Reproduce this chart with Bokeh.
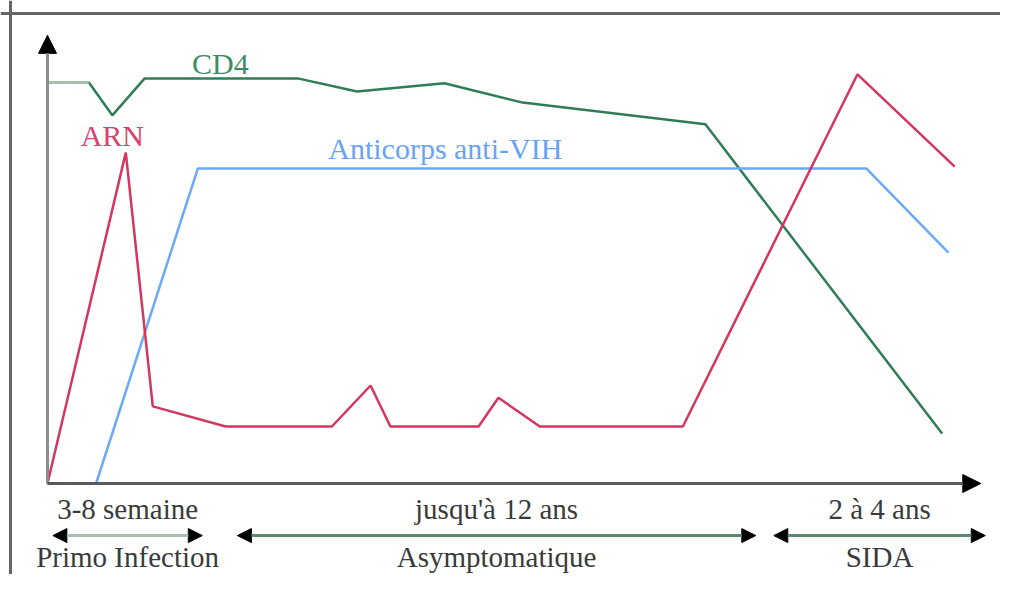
from bokeh.plotting import figure
from bokeh.models import Range1d, Arrow, NormalHead, Span
from bokeh.core.properties import value
from bokeh.embed import file_html
from bokeh.resources import INLINE

# ---- data (time in arbitrary units, level in arbitrary units) ----
cd4_t = [0, 4.6, 7.2, 10.8, 27.8, 34.4, 44.1, 52.8, 73.1, 99.4]
cd4_v = [97.8, 97.8, 89.8, 98.8, 98.8, 95.6, 97.6, 92.9, 87.6, 12.2]

arn_t = [0, 8.7, 11.7, 19.8, 31.6, 35.9, 38.1, 47.9, 50.1, 54.7, 70.6, 90.0, 100.8]
arn_v = [0, 80.7, 18.8, 13.9, 13.9, 23.9, 13.9, 13.9, 20.9, 13.9, 13.9, 99.8, 77.3]

ac_t = [0, 5.4, 16.7, 91.0, 100.1]
ac_v = [0, 0, 76.8, 76.8, 56.3]

series_names = ["CD4", "ARN", "Anticorps anti-VIH"]

phase_names = ["Primo Infection", "Asymptomatique", "SIDA"]
phase_durations = ["3-8 semaine", "jusqu'à 12 ans", "2 à 4 ans"]
phase_start = [0.6, 21.1, 80.7]
phase_end = [17.2, 78.7, 104.2]

# ---- styles ----
GREEN = "#2f7d55"
GREEN_LIGHT = "#a8c0aa"
RED = "#d5365f"
BLUE = "#6aaaf6"
BLUE_LIGHT = "#b8d6fa"
FONT = value("Liberation Serif")
FS = "30px"
FS_BOTTOM = "29px"

p = figure(width=1000, height=574, output_backend="svg", toolbar_location=None,
           x_axis_type=None, y_axis_type=None, min_border=0,
           x_range=Range1d(-5.222, 105.89), y_range=Range1d(-22.195, 117.80))
p.outline_line_color = None
p.grid.visible = False
p.background_fill_color = "white"

# frame (left and top borders)
p.add_layout(Span(location=-4.11, dimension="height", line_color="#666666", line_width=3))
p.add_layout(Span(location=114.6, dimension="width", line_color="#666666", line_width=3))

# axes with arrowheads
p.add_layout(Arrow(x_start=0, y_start=0, x_end=0, y_end=109.3,
                   line_color="#8c8c8c", line_width=3,
                   end=NormalHead(size=18, fill_color="black", line_color="black")))
p.add_layout(Arrow(x_start=0, y_start=0, x_end=103.7, y_end=0,
                   line_color="#5a5a5a", line_width=3,
                   end=NormalHead(size=18, fill_color="black", line_color="black")))

# series
p.line(cd4_t, cd4_v, line_color=GREEN, line_width=2.5)
p.line(cd4_t[:2], cd4_v[:2], line_color=GREEN_LIGHT, line_width=3)
p.line(ac_t, ac_v, line_color=BLUE, line_width=2.5)
p.line(ac_t[:2], ac_v[:2], line_color=BLUE_LIGHT, line_width=3)
p.line(arn_t, arn_v, line_color=RED, line_width=2.5)

# series labels
p.text(x=[19.2], y=[102.4], text=[series_names[0]], text_color="#3d8c64",
       text_font=FONT, text_font_size=FS, text_align="center", text_baseline="middle")
p.text(x=[7.2], y=[84.9], text=[series_names[1]], text_color="#d9446e",
       text_font=FONT, text_font_size=FS, text_align="center", text_baseline="middle")
p.text(x=[44.2], y=[81.7], text=[series_names[2]], text_color="#6aa2f4",
       text_font=FONT, text_font_size=FS, text_align="center", text_baseline="middle")

# phases
for i in range(len(phase_names)):
    col = GREEN_LIGHT if i == 0 else "#5a8a6a"
    p.add_layout(Arrow(x_start=phase_start[i], y_start=-12.7, x_end=phase_end[i], y_end=-12.7,
                       line_color=col, line_width=3,
                       start=NormalHead(size=14, fill_color="black", line_color="black"),
                       end=NormalHead(size=14, fill_color="black", line_color="black")))

mids = [(a + b) / 2 for a, b in zip(phase_start, phase_end)]
p.text(x=mids, y=[-6.3] * 3, text=phase_durations, text_color="#3a3a3a",
       text_font=FONT, text_font_size=FS_BOTTOM, text_align="center", text_baseline="middle")
p.text(x=mids, y=[-17.9] * 3, text=phase_names, text_color="#3a3a3a",
       text_font=FONT, text_font_size=FS_BOTTOM, text_align="center", text_baseline="middle")

open("out.html", "w").write(file_html(p, INLINE))
